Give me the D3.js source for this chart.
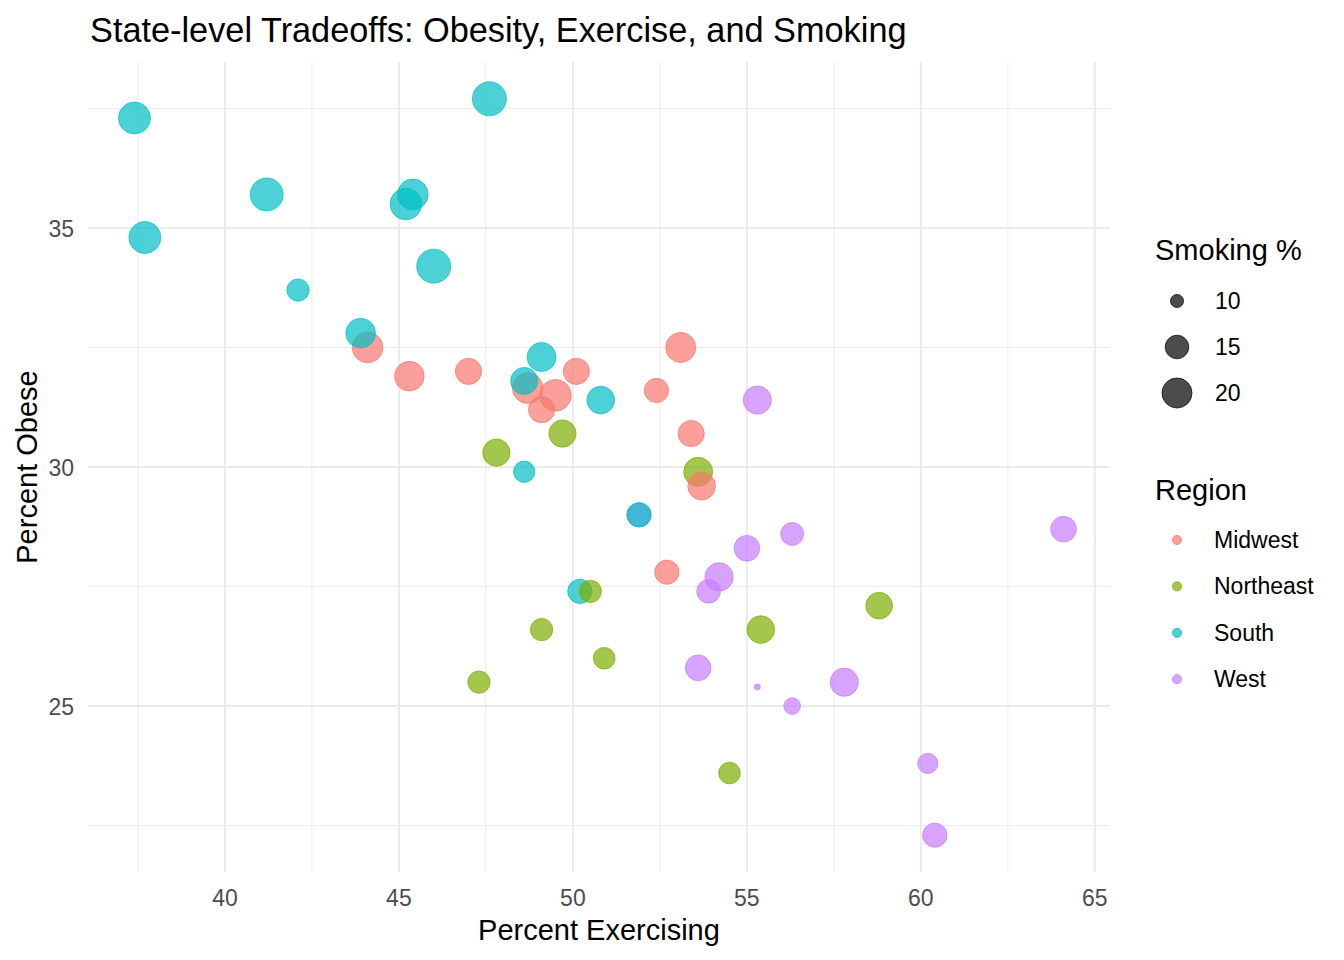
<!DOCTYPE html>
<html>
  <head>
    <meta charset="utf-8">
    <title>State-level Tradeoffs</title>
    <script src="https://d3js.org/d3.v7.min.js" charset="utf-8"></script>
    <style>
      body { margin: 0; background: #fff; }
      text { font-family: "Liberation Sans", Arial, sans-serif; }
    </style>
  </head>
  <body>
    <div id="vis"></div>
    <script>
      // one entry per state, drawn in this order (later ones sit on top)
      var region   = ["West",
                      "Midwest","Midwest","Midwest","Midwest","Midwest","Midwest","Midwest","Midwest","Midwest","Midwest","Midwest",
                      "South","South","South","South","South","South","South","South","South","South","South","South","South","South","South",
                      "Northeast","Northeast","Northeast","Northeast","Northeast","Northeast","Northeast","Northeast","Northeast","Northeast",
                      "Midwest",
                      "West","West","West","West","West","West","West","West","West","West","West","West"];
      var exercise = [51.9,
                      44.1, 45.3, 47.0, 48.7, 49.5, 49.1, 50.1, 53.1, 52.4, 53.4, 52.7,
                      37.4, 47.6, 41.2, 45.4, 45.2, 37.7, 46.0, 42.1, 43.9, 49.1, 48.6, 50.8, 48.6, 51.9, 50.2,
                      49.7, 47.8, 53.6, 50.5, 49.1, 50.9, 47.3, 55.4, 58.8, 54.5,
                      53.7,
                      55.3, 55.0, 56.3, 54.2, 53.9, 53.6, 55.3, 56.3, 57.8, 64.1, 60.2, 60.4];
      var obese    = [29.0,
                      32.5, 31.9, 32.0, 31.65, 31.5, 31.2, 32.0, 32.5, 31.6, 30.7, 27.8,
                      37.3, 37.7, 35.7, 35.7, 35.5, 34.8, 34.2, 33.7, 32.8, 32.3, 31.8, 31.4, 29.9, 29.0, 27.4,
                      30.7, 30.3, 29.9, 27.4, 26.6, 26.0, 25.5, 26.6, 27.1, 23.6,
                      29.6,
                      31.4, 28.3, 28.6, 27.7, 27.4, 25.8, 25.4, 25.0, 25.5, 28.7, 23.8, 22.3];
      var smoking  = [15.5,
                      20.6, 19.7, 16.9, 20.6, 21.5, 16.9, 16.9, 20.0, 15.5, 16.9, 15.5,
                      21.8, 23.8, 22.8, 20.6, 21.5, 21.8, 23.8, 14.2, 19.7, 19.1, 17.5, 18.0, 13.6, 15.5, 15.5,
                      17.7, 17.7, 19.1, 14.2, 14.2, 13.8, 14.2, 18.0, 17.2, 13.8,
                      18.0,
                      18.5, 16.5, 14.6, 18.5, 15.1, 16.5, 8.8, 11.3, 18.5, 16.5, 13.0, 15.5];

      var regions = ["Midwest", "Northeast", "South", "West"];
      var regionColors = ["#F8766D", "#7CAE00", "#00BFC4", "#C77CFF"];
      var smokingBreaks = [10, 15, 20];
      var xTicks = [40, 45, 50, 55, 60, 65];
      var yTicks = [25, 30, 35];

      var W = 1344, H = 960;
      var panel = {left: 88, right: 1110, top: 62, bottom: 872};

      var data = region.map(function(r, i) {
        return {region: r, x: exercise[i], y: obese[i], s: smoking[i]};
      });

      // ggplot-like 5% expansion
      function expand(ext) {
        var pad = (ext[1] - ext[0]) * 0.05;
        return [ext[0] - pad, ext[1] + pad];
      }

      var x = d3.scaleLinear()
        .domain(expand(d3.extent(exercise)))
        .range([panel.left, panel.right]);
      var y = d3.scaleLinear()
        .domain(expand(d3.extent(obese)))
        .range([panel.bottom, panel.top]);

      // area scale: size 1..6, one size unit ~ 5.83 px of diameter
      var sizeT = d3.scaleLinear().domain(d3.extent(smoking)).range([0, 1]).clamp(true);
      function radius(v) {
        var s = 1 + 5 * Math.sqrt(sizeT(v));
        return Math.max(s * 5.83 / 2 - 0.5, 3);
      }
      var color = d3.scaleOrdinal().domain(regions).range(regionColors);

      var svg = d3.select("#vis").append("svg")
        .attr("width", W)
        .attr("height", H);

      // grid: minor lines halfway between majors
      var step = 2.5;
      var xMinor = d3.range(Math.ceil(x.domain()[0] / step) * step, x.domain()[1], step)
        .filter(function(v) { return v % 5 !== 0; });
      var yMinor = d3.range(Math.ceil(y.domain()[0] / step) * step, y.domain()[1], step)
        .filter(function(v) { return v % 5 !== 0; });

      var grid = svg.append("g").attr("class", "grid");
      grid.selectAll(".xminor").data(xMinor).enter().append("line")
        .attr("x1", x).attr("x2", x)
        .attr("y1", panel.top).attr("y2", panel.bottom)
        .attr("stroke", "#EBEBEB").attr("stroke-width", 1);
      grid.selectAll(".yminor").data(yMinor).enter().append("line")
        .attr("y1", y).attr("y2", y)
        .attr("x1", panel.left).attr("x2", panel.right)
        .attr("stroke", "#EBEBEB").attr("stroke-width", 1);
      grid.selectAll(".xmajor").data(xTicks).enter().append("line")
        .attr("x1", x).attr("x2", x)
        .attr("y1", panel.top).attr("y2", panel.bottom)
        .attr("stroke", "#EBEBEB").attr("stroke-width", 2);
      grid.selectAll(".ymajor").data(yTicks).enter().append("line")
        .attr("y1", y).attr("y2", y)
        .attr("x1", panel.left).attr("x2", panel.right)
        .attr("stroke", "#EBEBEB").attr("stroke-width", 2);

      // tick labels
      svg.append("g").selectAll("text").data(xTicks).enter().append("text")
        .attr("x", x)
        .attr("y", 906)
        .attr("text-anchor", "middle")
        .attr("font-size", 23)
        .attr("fill", "#4D4D4D")
        .text(function(d) { return d; });
      svg.append("g").selectAll("text").data(yTicks).enter().append("text")
        .attr("x", 74)
        .attr("y", function(d) { return y(d) + 9; })
        .attr("text-anchor", "end")
        .attr("font-size", 23)
        .attr("fill", "#4D4D4D")
        .text(function(d) { return d; });

      // points
      svg.append("g").selectAll("circle").data(data).enter().append("circle")
        .attr("cx", function(d) { return x(d.x); })
        .attr("cy", function(d) { return y(d.y); })
        .attr("r", function(d) { return radius(d.s); })
        .attr("fill", function(d) { return color(d.region); })
        .attr("fill-opacity", 0.7)
        .attr("stroke", function(d) { return color(d.region); })
        .attr("stroke-opacity", 0.7)
        .attr("stroke-width", 1);

      // titles
      svg.append("text")
        .attr("x", 90).attr("y", 42)
        .attr("font-size", 34.3)
        .attr("fill", "#000")
        .text("State-level Tradeoffs: Obesity, Exercise, and Smoking");
      svg.append("text")
        .attr("x", (panel.left + panel.right) / 2).attr("y", 940)
        .attr("text-anchor", "middle")
        .attr("font-size", 29)
        .text("Percent Exercising");
      svg.append("text")
        .attr("transform", "translate(37," + ((panel.top + panel.bottom) / 2) + ") rotate(-90)")
        .attr("text-anchor", "middle")
        .attr("font-size", 29)
        .text("Percent Obese");

      // size legend
      var lg = svg.append("g");
      lg.append("text").attr("x", 1155).attr("y", 260).attr("font-size", 29).text("Smoking %");
      var sizeKeys = lg.selectAll(".skey").data(smokingBreaks).enter().append("g")
        .attr("transform", function(d, i) { return "translate(1177," + (301 + i * 46) + ")"; });
      sizeKeys.append("circle")
        .attr("r", radius)
        .attr("fill", "#000").attr("fill-opacity", 0.7)
        .attr("stroke", "#000").attr("stroke-opacity", 0.7).attr("stroke-width", 1);
      sizeKeys.append("text")
        .attr("x", 38).attr("y", 8)
        .attr("font-size", 23)
        .text(function(d) { return d; });

      // colour legend
      lg.append("text").attr("x", 1155).attr("y", 500).attr("font-size", 29).text("Region");
      var colKeys = lg.selectAll(".ckey").data(regions).enter().append("g")
        .attr("transform", function(d, i) { return "translate(1177," + (540 + i * 46.4) + ")"; });
      colKeys.append("circle")
        .attr("r", 4.6)
        .attr("fill", color).attr("fill-opacity", 0.7)
        .attr("stroke", color).attr("stroke-opacity", 0.7).attr("stroke-width", 1);
      colKeys.append("text")
        .attr("x", 37).attr("y", 8)
        .attr("font-size", 23)
        .text(function(d) { return d; });
    </script>
  </body>
</html>
